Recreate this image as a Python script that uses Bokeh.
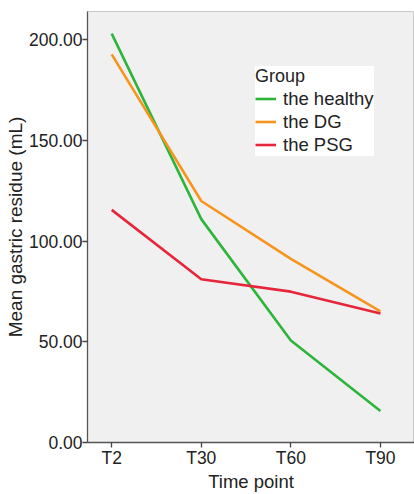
from bokeh.plotting import figure
from bokeh.models import Range1d, FixedTicker, Legend, LegendItem
from bokeh.embed import file_html
from bokeh.resources import INLINE

time_points = ["T2", "T30", "T60", "T90"]
healthy = [203.0, 110.9, 50.6, 15.6]
dg = [192.7, 119.9, 91.2, 65.1]
psg = [115.5, 81.1, 74.9, 64.0]
y_ticks = [0, 50, 100, 150, 200]

xs = list(range(len(time_points)))
FONT = "Liberation Sans"

p = figure(width=414, height=494, output_backend="svg", toolbar_location=None,
           x_range=Range1d(-0.27, 3.38), y_range=Range1d(0, 214),
           min_border_left=87, min_border_top=11, min_border_bottom=51, min_border_right=0)
p.background_fill_color = "#f0f0f0"
p.border_fill_color = "white"
p.outline_line_color = "#c8c8c8"
p.grid.visible = False

p.xaxis.ticker = FixedTicker(ticks=xs)
p.xaxis.major_label_overrides = {i: t for i, t in enumerate(time_points)}
p.yaxis.ticker = FixedTicker(ticks=y_ticks)
p.yaxis.major_label_overrides = {v: f"{v:.2f}" for v in y_ticks}

for ax in (p.xaxis[0], p.yaxis[0]):
    ax.axis_line_color = "#555555"
    ax.axis_line_width = 1.3
    ax.major_tick_line_color = "#444444"
    ax.major_tick_line_width = 1.3
    ax.major_tick_in = 0
    ax.minor_tick_line_color = None
    ax.major_label_text_font = FONT
    ax.major_label_text_font_size = "17.5px"
    ax.major_label_text_color = "#222222"
    ax.axis_label_text_font = FONT
    ax.axis_label_text_font_style = "normal"
    ax.axis_label_text_color = "#222222"
p.xaxis.axis_label = "Time point"
p.yaxis.axis_label = "Mean gastric residue (mL)"
p.xaxis.axis_label_text_font_size = "18.5px"
p.yaxis.axis_label_text_font_size = "19px"
p.xaxis.major_tick_out = 5
p.xaxis.major_label_standoff = 0
p.xaxis.axis_label_standoff = 0
p.yaxis.major_tick_out = 5
p.yaxis.major_label_standoff = 0
p.yaxis.axis_label_standoff = 0

r1 = p.line(xs, healthy, line_color="#2db53a", line_width=2.6)
r2 = p.line(xs, dg, line_color="#f7941d", line_width=2.6)
r3 = p.line(xs, psg, line_color="#e6263b", line_width=2.6)

legend = Legend(items=[LegendItem(label="the healthy", renderers=[r1]),
                       LegendItem(label="the DG", renderers=[r2]),
                       LegendItem(label="the PSG", renderers=[r3])],
                location=(168, 286), title="Group")
legend.title_text_font = FONT
legend.title_text_font_size = "18px"
legend.title_text_font_style = "normal"
legend.title_text_color = "#222222"
legend.label_text_font = FONT
legend.label_text_font_size = "18.5px"
legend.label_text_color = "#222222"
legend.background_fill_color = "white"
legend.background_fill_alpha = 1
legend.border_line_color = None
legend.glyph_width = 21
legend.glyph_height = 23
legend.label_height = 23
legend.label_standoff = 7
legend.spacing = 0
legend.padding = 9
legend.margin = 0
legend.title_standoff = 0
p.add_layout(legend, "center")

open("out.html", "w").write(file_html(p, INLINE))
